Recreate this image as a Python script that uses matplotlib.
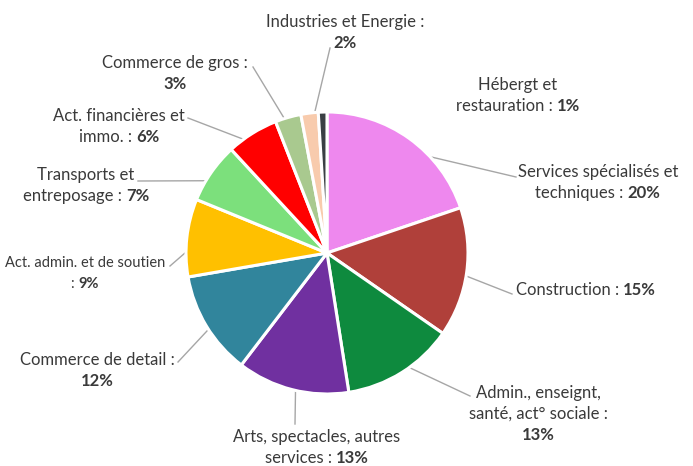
import math
import matplotlib.pyplot as plt

W, H = 693, 466

# parts des secteurs (%), dans l'ordre horaire depuis midi
secteurs = ["Services spécialisés", "Construction", "Admin., enseignement", "Arts, spectacles",
            "Commerce de détail", "Soutien", "Transports", "Act. financières",
            "Commerce de gros", "Industries", "Hébergement"]
parts = [20, 15, 13, 13, 12, 9, 7, 6, 3, 2, 1]
couleurs = ["#EE88EE", "#B0403A", "#0E8A3E", "#7030A0", "#31859C", "#FFC000",
            "#7CE07C", "#FF0000", "#A9C98F", "#F8CBAD", "#3A3F44"]

# libellés : lignes du nom, et pourcentage sur la même ligne ou non
noms = [
    ["Services spécialisés et", "techniques :"],
    ["Construction :"],
    ["Admin., enseignt,", "santé, act° sociale :"],
    ["Arts, spectacles, autres", "services :"],
    ["Commerce de detail :"],
    ["Act. admin. et de soutien", ":"],
    ["Transports et", "entreposage :"],
    ["Act. financières et", "immo. :"],
    ["Commerce de gros :"],
    ["Industries et Energie :"],
    ["Hébergt et", "restauration :"],
]
pct_a_part = [False, False, True, False, True, False, False, False, True, True, False]

# position des libellés (px depuis le haut), taille, et bout des traits de rappel
pos_txt = [(598, 172), (586, 290), (538, 393), (317, 437), (97, 360), (85, 263),
           (86, 175), (119, 116), (175, 63), (345, 22), (518, 85)]
tailles = [12, 12, 12, 12, 12, 10.5, 12, 12, 12, 12, 12]
bout_trait = [(516, 177), (512, 294), (470, 396), (295, 424), (178, 362), (170, 266),
              (138, 181), (188, 118), (253, 67), (330, 48), None]

cx, cy, R = 327, 253, 141
explode = [0.05] + [0] * 10

fig = plt.figure(figsize=(W / 100, H / 100), dpi=100)
ax = fig.add_axes([0, 0, 1, 1])
wedges, _ = ax.pie(parts, colors=couleurs, startangle=90, counterclock=False,
                   center=(cx, H - cy), radius=R, explode=explode,
                   wedgeprops=dict(edgecolor="white", linewidth=2.2, zorder=2))
ax.set_xlim(0, W)
ax.set_ylim(0, H)
ax.axis("off")

renderer = fig.canvas.get_renderer()
interligne = 21


def ligne(xc, y, morceaux, taille):
    arts = []
    for txt, gras in morceaux:
        t = ax.text(0, y, txt, ha="left", va="center", family="Lato", fontsize=taille,
                    color="#3A3A3A", fontweight="bold" if gras else "normal")
        arts.append(t)
    larg = [t.get_window_extent(renderer).width for t in arts]
    x = xc - sum(larg) / 2
    for t, w in zip(arts, larg):
        t.set_x(x)
        x += w


for i, w in enumerate(wedges):
    xc, yt = pos_txt[i]
    pct = f"{parts[i]}%"
    lignes = [[(n, False)] for n in noms[i]]
    if pct_a_part[i]:
        lignes.append([(pct, True)])
    else:
        lignes[-1] = [(noms[i][-1] + " ", False), (pct, True)]
    for k, morceaux in enumerate(lignes):
        ligne(xc, H - (yt + k * interligne), morceaux, tailles[i])

    if bout_trait[i] is not None:
        a = math.radians((w.theta1 + w.theta2) / 2)
        x0 = w.center[0] + 0.9 * R * math.cos(a)
        y0 = w.center[1] + 0.9 * R * math.sin(a)
        bx, by = bout_trait[i]
        ax.plot([x0, bx], [y0, H - by], color="#A6A6A6", lw=1, zorder=1)

fig.savefig("out.png", dpi=100)
